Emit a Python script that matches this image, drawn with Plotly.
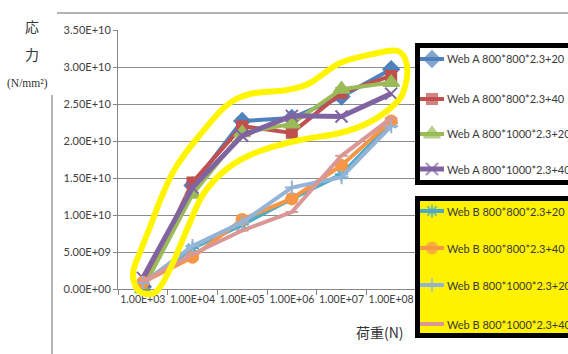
import plotly.graph_objects as go

# load categories (N) and stress values (N/mm2)
loads = ["1.00E+03", "1.00E+04", "1.00E+05", "1.00E+06", "1.00E+07", "1.00E+08"]

web_a_800_800_20 = [0.03e10, 1.40e10, 2.27e10, 2.31e10, 2.60e10, 2.97e10]
web_a_800_800_40 = [0.03e10, 1.44e10, 2.20e10, 2.11e10, 2.65e10, 2.88e10]
web_a_800_1000_20 = [0.0, 1.28e10, 2.11e10, 2.23e10, 2.70e10, 2.79e10]
web_a_800_1000_40 = [0.15e10, 1.37e10, 2.07e10, 2.34e10, 2.33e10, 2.64e10]

web_b_800_800_20 = [0.08e10, 0.55e10, 0.87e10, 1.22e10, 1.55e10, 2.24e10]
web_b_800_800_40 = [0.09e10, 0.43e10, 0.94e10, 1.22e10, 1.67e10, 2.27e10]
web_b_800_1000_20 = [0.08e10, 0.58e10, 0.90e10, 1.37e10, 1.51e10, 2.20e10]
web_b_800_1000_40 = [0.10e10, 0.47e10, 0.79e10, 1.04e10, 1.80e10, 2.31e10]

y_ticks = [0, 0.5e10, 1.0e10, 1.5e10, 2.0e10, 2.5e10, 3.0e10, 3.5e10]
y_tick_text = ["0.00E+00", "5.00E+09", "1.00E+10", "1.50E+10",
               "2.00E+10", "2.50E+10", "3.00E+10", "3.50E+10"]

series_names = [
    "Web A 800*800*2.3+20", "Web A 800*800*2.3+40",
    "Web A 800*1000*2.3+20", "Web A 800*1000*2.3+40",
    "Web B 800*800*2.3+20", "Web B 800*800*2.3+40",
    "Web B 800*1000*2.3+20", "Web B 800*1000*2.3+40",
]
series_values = [
    web_a_800_800_20, web_a_800_800_40, web_a_800_1000_20, web_a_800_1000_40,
    web_b_800_800_20, web_b_800_800_40, web_b_800_1000_20, web_b_800_1000_40,
]

# styling per series: colour, marker symbol, marker size, line width
styles = [
    ("#4F81BD", "diamond", 12, 4),
    ("#C0504D", "square", 10, 4),
    ("#9BBB59", "triangle-up", 14, 4),
    ("#8064A2", "x-thin-open", 12, 5),
    ("#4BACC6", "asterisk-open", 11, 4),
    ("#F79646", "circle", 11, 4),
    ("#95B3D7", "cross-thin-open", 10, 4),
    ("#D99795", "line-ew-open", 9, 4),
]

W, H = 568, 354
# plot area in pixels
L, R, T, B = 118, 416, 30, 289


def px(x):
    return x / W


def py(y):
    return 1 - y / H


fig = go.Figure()
for name, vals, (color, sym, size, lw) in zip(series_names, series_values, styles):
    fig.add_trace(go.Scatter(
        x=loads, y=vals, name=name, mode="lines+markers",
        line=dict(color=color, width=lw),
        marker=dict(symbol=sym, size=size, color=color,
                    line=dict(color=color, width=2)),
        cliponaxis=False, showlegend=False,
    ))

# hand-made legend boxes: (top, bottom, fill, entry rows)
legend_boxes = [
    (43, 185, "white", [59, 99, 134, 169]),
    (196, 338, "#FFF200", [211, 248, 285, 324]),
]
for top, bot, fill, rows in legend_boxes:
    fig.add_shape(type="rect", xref="paper", yref="paper",
                  x0=px(415), x1=px(575), y0=py(top), y1=py(bot),
                  fillcolor=fill, line=dict(width=0), layer="below")
    fig.add_shape(type="rect", xref="paper", yref="paper",
                  x0=px(417.5), x1=px(575), y0=py(top + 2.5), y1=py(bot - 2.5),
                  line=dict(color="black", width=5), layer="above")

rows_all = legend_boxes[0][3] + legend_boxes[1][3]
for name, row, (color, sym, size, lw) in zip(series_names, rows_all, styles):
    fig.add_trace(go.Scatter(
        x=[420, 432, 444], y=[row, row, row], mode="lines+markers",
        line=dict(color=color, width=lw),
        marker=dict(symbol=sym, size=[0, size, 0], color=color,
                    line=dict(color=color, width=2)),
        xaxis="x2", yaxis="y2", cliponaxis=False, showlegend=False,
        hoverinfo="skip",
    ))
    fig.add_annotation(text=name, x=px(445), y=py(row), xref="paper", yref="paper",
                       showarrow=False, xanchor="left", yanchor="middle",
                       font=dict(size=11, family="Lato", color="#3A3A3A"))

# yellow hand-drawn loop around the Web A curves
loop_px = [
    (133, 273), (141, 250), (150, 227), (162, 196), (176, 167), (199, 136),
    (226, 106), (250, 94), (287, 90), (310, 83), (340, 63), (373, 54),
    (398, 51), (407, 66), (404, 90), (395, 104), (370, 122), (340, 133),
    (300, 140), (260, 151), (228, 168), (204, 193), (188, 227),
    (171, 267), (156, 292), (139, 291),
]


def smooth_closed_path(pts):
    n = len(pts)
    p = [(px(a), py(b)) for a, b in pts]
    d = "M %.4f,%.4f" % p[0]
    for i in range(n):
        p0, p1, p2, p3 = p[i - 1], p[i], p[(i + 1) % n], p[(i + 2) % n]
        c1 = (p1[0] + (p2[0] - p0[0]) / 6, p1[1] + (p2[1] - p0[1]) / 6)
        c2 = (p2[0] - (p3[0] - p1[0]) / 6, p2[1] - (p3[1] - p1[1]) / 6)
        d += " C %.4f,%.4f %.4f,%.4f %.4f,%.4f" % (c1 + c2 + p2)
    return d + " Z"


fig.add_shape(type="path", xref="paper", yref="paper",
              path=smooth_closed_path(loop_px),
              line=dict(color="#FFF500", width=6), layer="above")

# outer frame lines of the surrounding figure
fig.add_shape(type="line", xref="paper", yref="paper",
              x0=px(57), x1=px(568), y0=py(13), y1=py(13),
              line=dict(color="#9A9A9A", width=1.5))
fig.add_shape(type="line", xref="paper", yref="paper",
              x0=px(52), x1=px(52), y0=py(95), y1=py(354),
              line=dict(color="#9A9A9A", width=1.5))

# axis titles
for txt, (tx, ty), size, fam in [
    ("応", (32, 26), 14, "Noto Sans CJK JP"),
    ("力", (32, 54), 14, "Noto Sans CJK JP"),
    ("(N/mm²)", (28, 83), 11.5, "Liberation Serif"),
    ("荷重(N)", (380, 332), 14, "Noto Sans CJK JP"),
]:
    fig.add_annotation(text=txt, x=px(tx), y=py(ty), xref="paper", yref="paper",
                       showarrow=False, xanchor="center", yanchor="middle",
                       font=dict(size=size, family=fam, color="#333333"))

fig.update_layout(
    width=W, height=H,
    margin=dict(l=0, r=0, t=0, b=0, autoexpand=False),
    paper_bgcolor="white", plot_bgcolor="rgba(0,0,0,0)",
    showlegend=False,
    xaxis=dict(type="category", domain=[px(L), px(R)], showgrid=False,
               showline=True, linecolor="#868686", linewidth=1,
               ticks="outside", tickson="boundaries", ticklen=5,
               tickcolor="#868686", tickangle=0,
               tickfont=dict(size=10.5, family="Lato", color="#404040"),
               range=[-0.5, 5.5]),
    yaxis=dict(domain=[py(B), py(T)], range=[0, 3.5e10],
               tickvals=y_ticks, ticktext=y_tick_text,
               showgrid=True, gridcolor="#8C8C8C", gridwidth=1,
               showline=True, linecolor="#868686", linewidth=1,
               ticks="outside", ticklen=4, tickcolor="#868686",
               tickfont=dict(size=11, family="Lato", color="#404040"),
               zeroline=False),
    # pixel-space overlay used for the legend samples
    xaxis2=dict(domain=[0, 1], range=[0, W], visible=False, fixedrange=True),
    yaxis2=dict(domain=[0, 1], range=[H, 0], visible=False, fixedrange=True,
                anchor="x2"),
)

fig.write_html("out.html")
